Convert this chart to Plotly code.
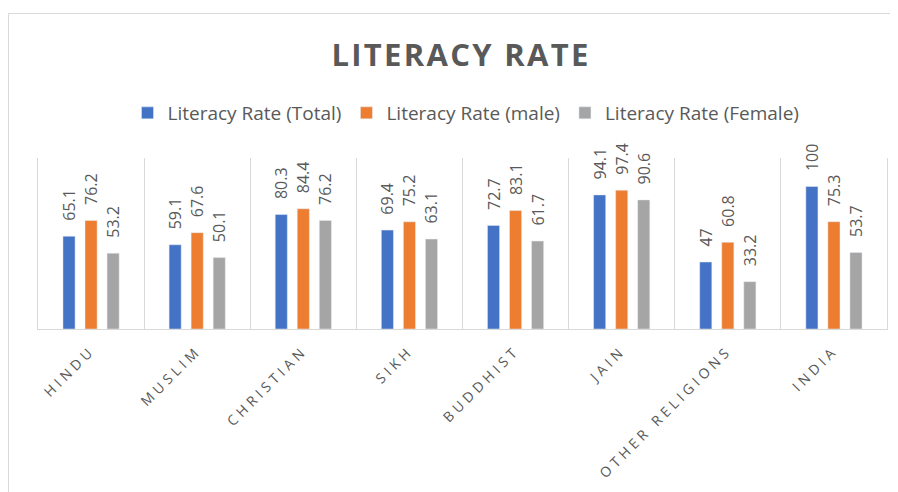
import plotly.graph_objects as go

categories = ["HINDU", "MUSLIM", "CHRISTIAN", "SIKH", "BUDDHIST", "JAIN", "OTHER RELIGIONS", "INDIA"]
total = [65.1, 59.1, 80.3, 69.4, 72.7, 94.1, 47, 100]
male = [76.2, 67.6, 84.4, 75.2, 83.1, 97.4, 60.8, 75.3]
female = [53.2, 50.1, 76.2, 63.1, 61.7, 90.6, 33.2, 53.7]

series = [
    ("Literacy Rate (Total)", total, "#4472C4"),
    ("Literacy Rate (male)", male, "#ED7D31"),
    ("Literacy Rate (Female)", female, "#A5A5A5"),
]

FONT = "Open Sans"
TXT = "#595959"
PAD = "\u00a0\u00a0\u00a0"  # gap between bar top and rotated label (label reads bottom-to-top)

fig = go.Figure()
for name, vals, col in series:
    fig.add_trace(go.Bar(
        x=categories, y=vals, name=name, marker_color=col,
        text=vals, texttemplate=PAD + "%{y}", textposition="outside",
        textangle=-90, constraintext="none", cliponaxis=False,
        textfont=dict(family=FONT, size=16, color=TXT),
    ))

# page has an 8px body margin; figure coords = page coords - 8
OFF = 8
W, H = 898, 492
L, R, T, B = 38 - OFF, W - (887 - OFF), 158 - OFF, H - (329 - OFF)
pw, ph = W - L - R, H - T - B

def px_x(p):
    return (p - OFF - L) / pw

def px_y(p):
    return (H - B - (p - OFF)) / ph

ticktext = ['<span style="letter-spacing:4px">%s</span>' % c for c in categories]

fig.update_layout(
    width=W, height=H,
    margin=dict(l=L, r=R, t=T, b=B),
    paper_bgcolor="white", plot_bgcolor="white",
    barmode="group", bargap=0.377, bargroupgap=0.45,
    title=dict(text='<b><span style="letter-spacing:2.3px">LITERACY RATE</span></b>',
               x=px_x(461), xref="paper", xanchor="center",
               y=1 - (55 - OFF) / H, yanchor="middle",
               font=dict(family=FONT, size=31, color=TXT)),
    legend=dict(orientation="h", x=px_x(466), xanchor="center", y=px_y(113), yanchor="middle",
                font=dict(family=FONT, size=19, color=TXT), traceorder="normal",
                itemclick=False, bgcolor="rgba(0,0,0,0)"),
    xaxis=dict(type="category", tickson="boundaries", showgrid=True, gridcolor="#D9D9D9",
               gridwidth=1, showline=True, linecolor="#D9D9D9", linewidth=1,
               ticks="", tickangle=-45, tickmode="array", tickvals=categories, ticktext=ticktext,
               ticklabelstandoff=7,
               tickfont=dict(family=FONT, size=14, color=TXT)),
    yaxis=dict(range=[0, 120], showgrid=False, showticklabels=False, zeroline=False,
               showline=True, linecolor="#D9D9D9", mirror=True, ticks=""),
    shapes=[
        dict(type="line", xref="paper", yref="paper", x0=px_x(8.5), x1=px_x(W + OFF), y0=px_y(13.5), y1=px_y(13.5),
             line=dict(color="#D9D9D9", width=1)),
        dict(type="line", xref="paper", yref="paper", x0=px_x(8.5), x1=px_x(8.5), y0=px_y(13.5), y1=px_y(H + OFF),
             line=dict(color="#D9D9D9", width=1)),
    ],
)

fig.write_html("out.html")
